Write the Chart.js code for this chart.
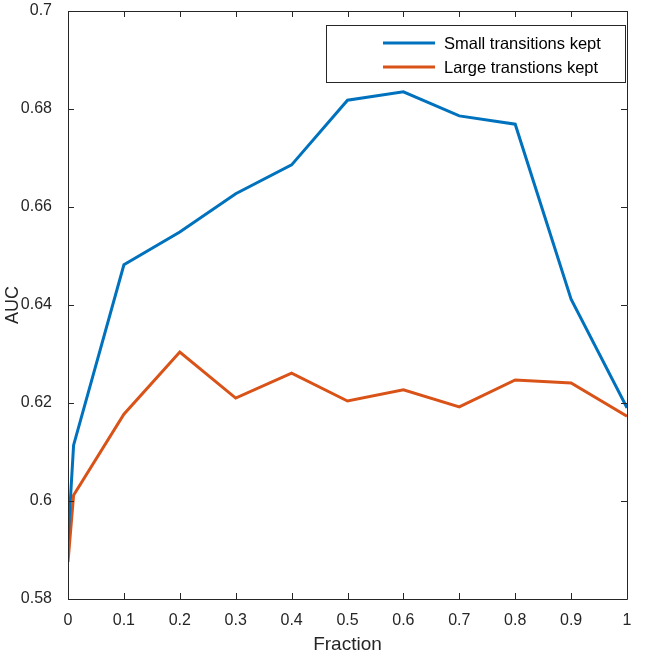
<!DOCTYPE html>
<html>
<head>
<meta charset="utf-8">
<script src="https://cdn.jsdelivr.net/npm/chart.js@4.4.0/dist/chart.umd.min.js"></script>
<style>
  html, body { margin: 0; padding: 0; background: #fff; }
  #wrap { width: 646px; height: 658px; }
</style>
</head>
<body>
<div id="wrap"><canvas id="chart"></canvas></div>
<script>
// values
const fractions = [0, 0.01, 0.1, 0.2, 0.3, 0.4, 0.5, 0.6, 0.7, 0.8, 0.9, 1];
const smallKept = [0.592, 0.6114, 0.6482, 0.6549, 0.6627, 0.6686, 0.6818, 0.6835, 0.6786, 0.6769, 0.6412, 0.619];
const largeKept = [0.5876, 0.6012, 0.6177, 0.6304, 0.621, 0.6261, 0.6204, 0.6227, 0.6192, 0.6247, 0.6241, 0.6173];
const seriesNames = ["Small transitions kept", "Large transtions kept"];
const seriesColors = ["#0072BD", "#D95319"];
const xTicks = [0, 0.1, 0.2, 0.3, 0.4, 0.5, 0.6, 0.7, 0.8, 0.9, 1];
const yTicks = [0.58, 0.6, 0.62, 0.64, 0.66, 0.68, 0.7];

const axisColor = "#262626";
const fontFam = "'Liberation Sans', Arial, Helvetica, sans-serif";

const toPoints = (ys) => fractions.map((f, i) => ({ x: f, y: ys[i] }));

const fmt = (v) => (Math.round(v * 1000) / 1000).toString();

// box around the axes + inward ticks on all four sides (matlab look)
const boxPlugin = {
  id: "boxPlugin",
  afterDraw(chart) {
    const { ctx, chartArea: a, scales } = chart;
    const len = 6;
    ctx.save();
    ctx.strokeStyle = axisColor;
    ctx.lineWidth = 1;
    ctx.beginPath();
    ctx.rect(a.left + 0.5, a.top + 0.5, a.right - a.left, a.bottom - a.top);
    xTicks.forEach((t) => {
      const px = Math.round(scales.x.getPixelForValue(t)) + 0.5;
      ctx.moveTo(px, a.bottom);
      ctx.lineTo(px, a.bottom - len);
      ctx.moveTo(px, a.top);
      ctx.lineTo(px, a.top + len);
    });
    yTicks.forEach((t) => {
      const py = Math.round(scales.y.getPixelForValue(t)) + 0.5;
      ctx.moveTo(a.left, py);
      ctx.lineTo(a.left + len, py);
      ctx.moveTo(a.right, py);
      ctx.lineTo(a.right - len, py);
    });
    ctx.stroke();

    // legend
    const bw = 299, bh = 57;
    const bx = a.right - 2 - bw, by = a.top + 14;
    ctx.fillStyle = "#fff";
    ctx.fillRect(bx, by, bw, bh);
    ctx.strokeRect(bx + 0.5, by + 0.5, bw, bh);
    ctx.font = "16.5px " + fontFam;
    ctx.textBaseline = "middle";
    ctx.textAlign = "left";
    chart.data.datasets.forEach((ds, i) => {
      const ry = by + 18 + i * 24;
      ctx.strokeStyle = ds.borderColor;
      ctx.lineWidth = 3;
      ctx.beginPath();
      ctx.moveTo(bx + 57, ry);
      ctx.lineTo(bx + 109, ry);
      ctx.stroke();
      ctx.fillStyle = "#000";
      ctx.fillText(ds.label, bx + 118, ry + 1);
    });
    ctx.restore();
  }
};

new Chart(document.getElementById("chart").getContext("2d"), {
  type: "line",
  data: {
    datasets: [
      { label: seriesNames[0], data: toPoints(smallKept), borderColor: seriesColors[0], borderWidth: 3, pointRadius: 0, tension: 0, fill: false },
      { label: seriesNames[1], data: toPoints(largeKept), borderColor: seriesColors[1], borderWidth: 3, pointRadius: 0, tension: 0, fill: false }
    ]
  },
  options: {
    responsive: true,
    maintainAspectRatio: false,
    animation: false,
    layout: { padding: { top: 11, right: 19, left: 0, bottom: 0 } },
    plugins: {
      legend: { display: false },
      tooltip: { enabled: false }
    },
    scales: {
      x: {
        type: "linear",
        min: 0,
        max: 1,
        afterBuildTicks: (s) => { s.ticks = xTicks.map((v) => ({ value: v })); },
        afterFit: (s) => { s.height = 59; s.paddingLeft = 0; s.paddingRight = 0; },
        grid: { display: false },
        border: { display: false },
        ticks: { color: axisColor, padding: 4, maxRotation: 0, autoSkip: false, font: { size: 16, family: fontFam }, callback: (v) => fmt(v) },
        title: { display: true, text: "Fraction", color: axisColor, font: { size: 19, family: fontFam }, padding: { top: 0, bottom: 2 } }
      },
      y: {
        min: 0.58,
        max: 0.7,
        afterBuildTicks: (s) => { s.ticks = yTicks.map((v) => ({ value: v })); },
        afterFit: (s) => { s.width = 68; s.paddingTop = 0; s.paddingBottom = 0; },
        grid: { display: false },
        border: { display: false },
        ticks: { color: axisColor, padding: 8, autoSkip: false, font: { size: 16, family: fontFam }, callback: (v) => fmt(v) },
        title: { display: true, text: "AUC", color: axisColor, font: { size: 18, family: fontFam }, padding: { top: 2, bottom: 0 } }
      }
    }
  },
  plugins: [boxPlugin]
});
</script>
</body>
</html>
